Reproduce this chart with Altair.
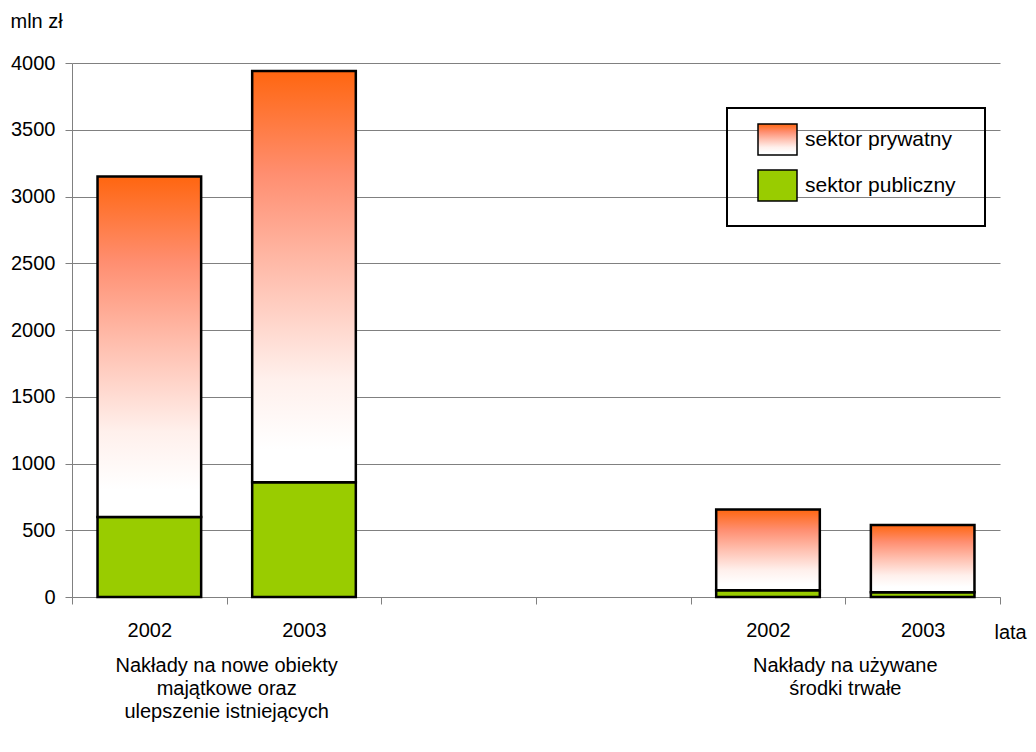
import altair as alt
import pandas as pd

# ---- data ----
slots = ["n2002", "n2003", "gap1", "gap2", "u2002", "u2003"]
slot_labels = ["2002", "2003", "", "", "2002", "2003"]
bar_slots = ["n2002", "n2003", "u2002", "u2003"]
publiczny = [600, 860, 50, 35]
razem = [3150, 3940, 655, 540]
sectors = ["sektor prywatny", "sektor publiczny"]
group_slots = ["n2003", "u2003"]
group_labels = [
    ["Nakłady na nowe obiekty", "majątkowe oraz", "ulepszenie istniejących"],
    ["Nakłady na używane", "środki trwałe"],
]
y_ticks = [0, 500, 1000, 1500, 2000, 2500, 3000, 3500, 4000]

rows = []
for s, p, t in zip(bar_slots, publiczny, razem):
    rows.append({"slot": s, "sector": "sektor publiczny", "y0": 0, "y1": p})
    rows.append({"slot": s, "sector": "sektor prywatny", "y0": p, "y1": t})
bars_df = pd.DataFrame(rows)
groups_df = pd.DataFrame({"slot": group_slots, "text": group_labels})

FONT = "Liberation Sans"
GRAY = "#808080"
W, H = 928, 534

grad = ("{gradient: 'linear', x1: 0, y1: 0, x2: 0, y2: 1, stops: ["
        "{offset: 0, color: '#ff6610'}, {offset: 0.25, color: '#ff8e70'}, "
        "{offset: 0.5, color: '#ffc0b0'}, {offset: 0.75, color: '#fff0ec'}, "
        "{offset: 0.92, color: '#ffffff'}, {offset: 1, color: '#ffffff'}]}")

label_expr = " : ".join(
    f"datum.value == '{s}' ? '{l}'" for s, l in zip(slots, slot_labels)
) + " : ''"

x_scale = alt.Scale(domain=slots, paddingInner=0, paddingOuter=0)
x_axis = alt.Axis(title="lata", tickBand="extent", labelExpr=label_expr,
                  labelAngle=0, grid=False, domainColor=GRAY, tickColor=GRAY,
                  tickSize=7, labelFontSize=20, labelPadding=16, labelColor="black",
                  titleX=922, titleY=41, titleAlign="left", titleBaseline="alphabetic",
                  titleFontWeight="normal", titleFontSize=20, titleColor="black")

bars = alt.Chart(bars_df).mark_bar(
    stroke="black", strokeWidth=2.5, width=alt.RelativeBandSize(0.67)
).encode(
    x=alt.X("slot:N", scale=x_scale, sort=slots, axis=x_axis),
    y=alt.Y("y0:Q", scale=alt.Scale(domain=[0, 4000]),
            axis=alt.Axis(values=y_ticks, format="d", title="mln zł", titleAngle=0,
                          titleX=-62, titleY=-36,
                          titleAlign="left", titleBaseline="alphabetic", titleFontWeight="normal",
                          titleFontSize=20, titleColor="black", grid=True, gridColor=GRAY,
                          gridOpacity=1, domainColor=GRAY, tickColor=GRAY, tickSize=7,
                          labelPadding=10, labelFontSize=20, labelColor="black")),
    y2="y1:Q",
    color=alt.Color("sector:N",
                    scale=alt.Scale(domain=sectors, range=[alt.ExprRef(grad), "#99cc00"]),
                    legend=alt.Legend(orient="none", legendX=655, legendY=45,
                                      title="'", titleOrient="right", titleFontSize=108,
                                      titlePadding=-8, titleOpacity=0,
                                      symbolType="M-1,-0.79H1V0.79H-1Z", symbolSize=1521,
                                      symbolStrokeColor="black", symbolStrokeWidth=1.5,
                                      symbolOffset=19, labelOffset=7, labelFontSize=21,
                                      labelColor="black", rowPadding=7, padding=11,
                                      strokeColor="black", labelLimit=400)),
)

texts = alt.Chart(groups_df).mark_text(
    align="center", baseline="alphabetic", fontSize=20, lineHeight=23, font=FONT,
    color="black"
).encode(
    x=alt.X("slot:N", scale=x_scale, sort=slots, bandPosition=0, axis=x_axis),
    y=alt.value(609),
    text="text",
)

chart = alt.layer(bars, texts).properties(
    width=W, height=H, autosize="none",
    padding={"left": 64, "top": 55, "right": 28, "bottom": 140},
).configure(font=FONT).configure_view(stroke=None).configure_legend(strokeWidth=2)

chart.save("out.html", embed_options={"renderer": "svg", "actions": False})
